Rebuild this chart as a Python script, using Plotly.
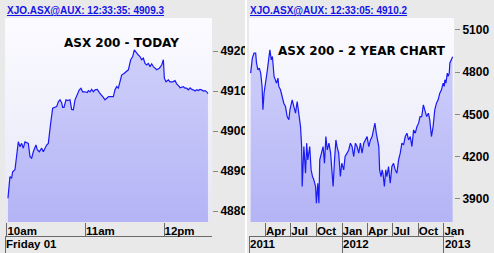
import plotly.graph_objects as go

W, H = 494, 253

# ---------------- data: today (intraday, Friday 01) ----------------
today_day = "2013-02-01"
today_times = [
    "10:00:46", "10:02:17", "10:03:34", "10:04:20", "10:06:07", "10:07:23", "10:08:40", "10:09:56",
    "10:11:13", "10:12:29", "10:13:46", "10:16:19", "10:17:35", "10:18:52", "10:20:08", "10:22:10",
    "10:23:11", "10:24:43", "10:26:30", "10:27:46", "10:29:03", "10:30:19", "10:31:36", "10:32:22",
    "10:33:23", "10:34:55", "10:36:41", "10:37:58", "10:39:14", "10:40:31", "10:41:47", "10:42:33",
    "10:43:34", "10:45:06", "10:46:22", "10:48:10", "10:49:26", "10:50:43", "10:51:59", "10:53:46",
    "10:55:17", "10:56:34", "10:57:50", "10:59:37", "11:01:25", "11:02:10", "11:03:27", "11:04:43",
    "11:05:59", "11:07:16", "11:09:03", "11:10:35", "11:12:22", "11:13:38", "11:14:55", "11:16:11",
    "11:17:43", "11:20:00", "11:21:17", "11:22:33", "11:23:50", "11:25:06", "11:26:23", "11:27:39",
    "11:29:26", "11:30:58", "11:32:45", "11:34:32", "11:36:04", "11:37:20", "11:39:07", "11:40:23",
    "11:41:40", "11:42:56", "11:44:13", "11:45:29", "11:46:46", "11:48:02", "11:49:19", "11:50:35",
    "11:51:52", "11:53:08", "11:54:25", "11:56:27", "11:58:14", "11:59:30", "12:00:16", "12:01:32",
    "12:03:20", "12:04:36", "12:06:38", "12:08:25", "12:09:41", "12:11:44", "12:12:12", "12:14:48",
    "12:16:00", "12:17:18", "12:18:36", "12:19:54", "12:21:12", "12:22:24", "12:23:42", "12:25:00",
    "12:26:12", "12:27:30", "12:28:48", "12:30:00", "12:31:18", "12:32:36", "12:33:35",
]
today_values = [
    4883.2, 4888.6, 4888.2, 4889.8, 4890.3, 4894.4, 4897.3, 4896.1,
    4896.9, 4895.7, 4897.3, 4896.9, 4893.6, 4893.2, 4894.8, 4896.5,
    4895.3, 4894.8, 4895.7, 4894.8, 4895.7, 4896.5, 4896.9, 4899.4,
    4901.9, 4905.7, 4905.9, 4906.1, 4907.3, 4907.8, 4907.1, 4905.9,
    4905.9, 4907.8, 4907.6, 4907.8, 4905.4, 4905.3, 4907.8, 4909.0,
    4910.3, 4910.7, 4909.8, 4909.8, 4909.6, 4910.1, 4909.8, 4910.4,
    4909.8, 4910.3, 4910.4, 4909.6, 4909.0, 4908.4, 4907.8, 4908.2,
    4908.6, 4908.6, 4908.6, 4910.3, 4911.1, 4910.7, 4912.8, 4914.0,
    4914.4, 4914.8, 4915.3, 4917.8, 4918.6, 4920.3, 4919.4, 4919.0,
    4918.6, 4917.8, 4918.2, 4916.9, 4916.5, 4916.9, 4916.1, 4916.8,
    4916.1, 4915.7, 4915.3, 4915.7, 4916.5, 4917.8, 4913.2, 4912.3,
    4912.8, 4912.3, 4912.3, 4912.6, 4911.8, 4911.1, 4910.8, 4911.1,
    4910.7, 4910.7, 4910.3, 4910.8, 4910.4, 4910.3, 4910.0, 4910.3,
    4910.1, 4910.4, 4910.3, 4910.0, 4910.1, 4909.8, 4909.3,
]
today_x = [f"{today_day} {t}" for t in today_times]
today_range_x = [f"{today_day} 09:58:30", f"{today_day} 12:36:40"]
today_range_y = [4877.25, 4928.25]
today_ytick = [4880, 4890, 4900, 4910, 4920]
today_xtick = [f"{today_day} 10:00", f"{today_day} 11:00", f"{today_day} 12:00"]
today_xtext = ["10am", "11am", "12pm"]
today_daylabel = ["Friday 01"]

# ---------------- data: 2 year chart ----------------
y2_dates = [
    "2011-02-07", "2011-02-13", "2011-02-19", "2011-02-25", "2011-02-28", "2011-03-05", "2011-03-10", "2011-03-15",
    "2011-03-20", "2011-03-23", "2011-03-27", "2011-04-02", "2011-04-08", "2011-04-14", "2011-04-17", "2011-04-22",
    "2011-04-26", "2011-05-02", "2011-05-07", "2011-05-11", "2011-05-16", "2011-05-19", "2011-05-25", "2011-05-31",
    "2011-06-06", "2011-06-12", "2011-06-18", "2011-06-24", "2011-06-28", "2011-07-06", "2011-07-12", "2011-07-18",
    "2011-07-24", "2011-07-30", "2011-08-05", "2011-08-09", "2011-08-11", "2011-08-17", "2011-08-23", "2011-08-27",
    "2011-08-31", "2011-09-07", "2011-09-12", "2011-09-17", "2011-09-22", "2011-09-28", "2011-10-01", "2011-10-06",
    "2011-10-10", "2011-10-13", "2011-10-18", "2011-10-25", "2011-10-30", "2011-11-04", "2011-11-09", "2011-11-15",
    "2011-11-21", "2011-11-25", "2011-11-30", "2011-12-05", "2011-12-10", "2011-12-14", "2011-12-20", "2011-12-26",
    "2011-12-31", "2012-01-07", "2012-01-12", "2012-01-19", "2012-01-25", "2012-01-31", "2012-02-06", "2012-02-12",
    "2012-02-18", "2012-02-24", "2012-03-01", "2012-03-07", "2012-03-13", "2012-03-19", "2012-03-25", "2012-03-31",
    "2012-04-06", "2012-04-12", "2012-04-18", "2012-04-24", "2012-04-28", "2012-05-03", "2012-05-08", "2012-05-12",
    "2012-05-15", "2012-05-20", "2012-05-24", "2012-05-27", "2012-06-01", "2012-06-06", "2012-06-10", "2012-06-16",
    "2012-06-22", "2012-06-28", "2012-07-04", "2012-07-10", "2012-07-16", "2012-07-22", "2012-07-28", "2012-08-03",
    "2012-08-09", "2012-08-15", "2012-08-21", "2012-08-27", "2012-09-02", "2012-09-08", "2012-09-14", "2012-09-20",
    "2012-09-26", "2012-10-02", "2012-10-07", "2012-10-13", "2012-10-19", "2012-10-25", "2012-10-31", "2012-11-06",
    "2012-11-11", "2012-11-17", "2012-11-23", "2012-11-29", "2012-12-05", "2012-12-11", "2012-12-17", "2012-12-23",
    "2012-12-29", "2013-01-02", "2013-01-04", "2013-01-08", "2013-01-13", "2013-01-16", "2013-01-20", "2013-01-22",
    "2013-01-26", "2013-01-30", "2013-02-01",
]
y2_values = [
    4793, 4900, 4935, 4935, 4864, 4817, 4829, 4793,
    4699, 4533, 4651, 4722, 4817, 4912, 4959, 4888,
    4912, 4770, 4746, 4722, 4758, 4699, 4675, 4627,
    4580, 4556, 4485, 4462, 4533, 4604, 4556, 4509,
    4592, 4509, 4414, 4272, 3988, 4272, 4082, 4296,
    4177, 4272, 4106, 4059, 4035, 3988, 3869, 4011,
    3869, 4177, 4225, 4272, 4153, 4343, 4248, 4296,
    4225, 4130, 3988, 4177, 4319, 4272, 4225, 4059,
    4153, 4106, 4201, 4225, 4248, 4296, 4272, 4201,
    4296, 4272, 4225, 4296, 4225, 4296, 4319, 4343,
    4272, 4319, 4343, 4390, 4438, 4367, 4296, 4272,
    4106, 4059, 4106, 4082, 3988, 4106, 4059, 4130,
    4011, 4130, 4153, 4106, 4082, 4177, 4225, 4296,
    4284, 4343, 4367, 4319, 4343, 4272, 4390, 4367,
    4414, 4438, 4485, 4485, 4568, 4521, 4485, 4509,
    4462, 4343, 4414, 4533, 4580, 4604, 4651, 4675,
    4722, 4699, 4746, 4722, 4793, 4770, 4793, 4864,
    4888, 4907, 4910.2,
]
y2_range_x = ["2011-02-01", "2013-02-06"]
y2_range_y = [3736, 5185]
y2_ytick = [3900, 4200, 4500, 4800, 5100]
y2_mtick = ["2011-04-01", "2011-07-01", "2011-10-01", "2012-01-01",
            "2012-04-01", "2012-07-01", "2012-10-01", "2013-01-01"]
y2_mtext = ["Apr", "Jul", "Oct", "Jan", "Apr", "Jul", "Oct", "Jan"]
y2_yeartick = ["2011-02-01", "2012-01-01", "2013-01-01"]
y2_yeartext = ["2011", "2012", "2013"]

headers = ["XJO.ASX@AUX: 12:33:35: 4909.3", "XJO.ASX@AUX: 12:33:05: 4910.2"]
titles = ["ASX 200 - TODAY", "ASX 200 - 2 YEAR CHART"]

# ---------------- styles ----------------
LINE = "#1a1af5"
FILL_SCALE = [[0, "#b4b4f6"], [1, "#d4d4fb"]]
BG_SCALE = [[0, "#e6e6f8"], [1, "#fbfbff"]]
GRAY = "#e9e9e9"
SEP = "#6a6a6a"
TICKFONT = dict(family="Liberation Sans", size=12, color="black", weight="bold")
XTICKFONT = dict(family="Liberation Sans", size=11.5, color="black", weight="bold")

ydom = [1 - 222 / H, 1 - 18 / H]
row2_pos = (H - 236) / H

fig = go.Figure()

# background gradient traces
for xr, yr, xa, ya in [(today_range_x, today_range_y, "x", "y"), (y2_range_x, y2_range_y, "x2", "y2")]:
    fig.add_trace(go.Scatter(
        x=xr, y=[yr[1], yr[1]], xaxis=xa, yaxis=ya, mode="lines", line=dict(width=0),
        fill="tozeroy", fillgradient=dict(type="vertical", colorscale=BG_SCALE, start=yr[0], stop=yr[1]),
        hoverinfo="skip", showlegend=False))

fig.add_trace(go.Scatter(
    x=today_x, y=today_values, xaxis="x", yaxis="y", mode="lines",
    line=dict(color=LINE, width=1.2),
    fill="tozeroy",
    fillgradient=dict(type="vertical", colorscale=FILL_SCALE, start=today_range_y[0], stop=today_range_y[1]),
    showlegend=False))

fig.add_trace(go.Scatter(
    x=y2_dates, y=y2_values, xaxis="x2", yaxis="y2", mode="lines",
    line=dict(color=LINE, width=1.2),
    fill="tozeroy",
    fillgradient=dict(type="vertical", colorscale=FILL_SCALE, start=y2_range_y[0], stop=y2_range_y[1]),
    showlegend=False))

# invisible carriers so the second label rows (day / years) are drawn
fig.add_trace(go.Scatter(x=[today_x[-1]], y=[today_values[-1]], xaxis="x3", yaxis="y",
                         mode="markers", marker=dict(opacity=0), hoverinfo="skip", showlegend=False))
fig.add_trace(go.Scatter(x=[y2_dates[-1]], y=[y2_values[-1]], xaxis="x4", yaxis="y2",
                         mode="markers", marker=dict(opacity=0), hoverinfo="skip", showlegend=False))

common_x = dict(type="date", showgrid=False, zeroline=False, showline=False, tickangle=0,
                automargin=False, ticklabelstandoff=-2,
                ticks="outside", ticklen=14, tickwidth=1, tickcolor=SEP,
                ticklabelposition="outside right", tickfont=XTICKFONT, fixedrange=True)
common_row2 = dict(type="date", showgrid=False, zeroline=False, showline=True, linecolor=SEP, linewidth=1,
                   automargin=False, ticklabelstandoff=-3,
                   tickangle=0, ticks="outside", ticklen=17, tickwidth=1, tickcolor=SEP,
                   ticklabelposition="outside right", tickfont=XTICKFONT, fixedrange=True,
                   anchor="free", position=row2_pos)
common_y = dict(side="right", showgrid=False, zeroline=False, showline=False, automargin=False,
                ticks="outside", ticklen=5, tickwidth=1, tickcolor="#888888",
                tickfont=TICKFONT, fixedrange=True, domain=ydom)

fig.update_layout(
    width=W, height=H, autosize=False, margin=dict(l=0, r=0, t=0, b=0, autoexpand=False),
    paper_bgcolor=GRAY, plot_bgcolor="#f2f2fb", showlegend=False,
    xaxis=dict(common_x, domain=[5 / W, 212 / W], range=today_range_x, anchor="y",
               tickvals=today_xtick, ticktext=today_xtext),
    yaxis=dict(common_y, anchor="x", range=today_range_y, tickvals=today_ytick),
    xaxis2=dict(common_x, domain=[249 / W, 454 / W], range=y2_range_x, anchor="y2",
                tickvals=y2_mtick, ticktext=y2_mtext),
    yaxis2=dict(common_y, anchor="x2", range=y2_range_y, tickvals=y2_ytick,
                tickformat="d"),
    xaxis3=dict(common_row2, overlaying="x", range=today_range_x,
                tickvals=[today_range_x[0]], ticktext=today_daylabel),
    xaxis4=dict(common_row2, overlaying="x2", range=y2_range_x,
                tickvals=y2_yeartick, ticktext=y2_yeartext),
)

# white divider between the two panels
fig.add_shape(type="line", xref="paper", yref="paper", x0=246 / W, x1=246 / W, y0=0, y1=1,
              line=dict(color="white", width=2))

hdr_font = dict(family="Liberation Sans", size=10, color="#1414e6", weight="bold", lineposition="under")
fig.add_annotation(text=headers[0], xref="paper", yref="paper", x=5 / W, y=1 - 10.5 / H,
                   xanchor="left", yanchor="middle", showarrow=False, font=hdr_font)
fig.add_annotation(text=headers[1], xref="paper", yref="paper", x=248 / W, y=1 - 10.5 / H,
                   xanchor="left", yanchor="middle", showarrow=False, font=hdr_font)

ttl_font = dict(family="DejaVu Sans", size=12, color="black", weight="bold")
fig.add_annotation(text=titles[0], xref="paper", yref="paper", x=121 / W, y=1 - 43 / H,
                   xanchor="center", yanchor="middle", showarrow=False, font=ttl_font)
fig.add_annotation(text=titles[1], xref="paper", yref="paper", x=362 / W, y=1 - 51 / H,
                   xanchor="center", yanchor="middle", showarrow=False, font=ttl_font)

fig.write_html("out.html", config={"displayModeBar": False, "responsive": False},
               post_script="document.body.style.margin='0';document.body.style.overflow='hidden';")
